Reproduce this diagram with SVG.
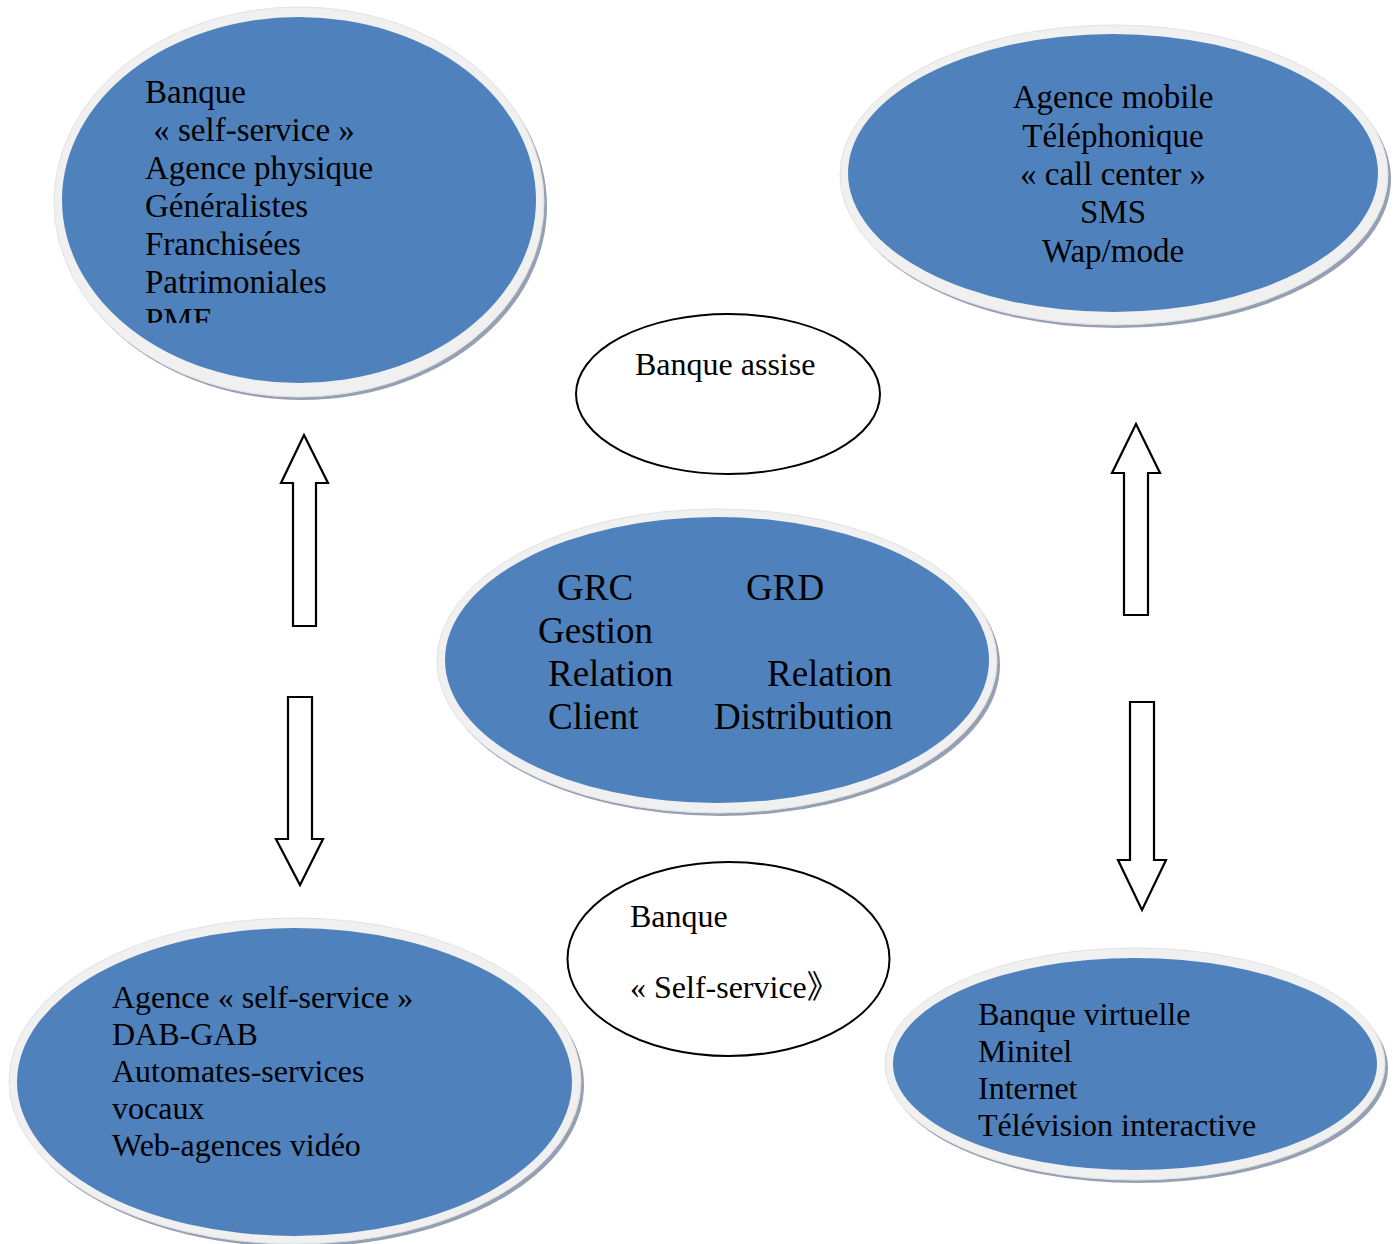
<svg xmlns="http://www.w3.org/2000/svg" width="1395" height="1244" viewBox="0 0 1395 1244">
<style>
.shadow{fill:#95a0b3}
.rim{fill:#f0f0f0;stroke:#e2e2e2;stroke-width:1}
.blue{fill:#4f81bd}
.plain{fill:#ffffff;stroke:#000000;stroke-width:2}
.arrow{fill:#ffffff;stroke:#000000;stroke-width:2.2;stroke-linejoin:miter}
text{font-family:"Liberation Serif","Times New Roman","Noto Sans CJK SC",serif;fill:#000000}
.t33{font-size:33px}
.t32{font-size:32px}
.t37{font-size:37px}
</style>
<defs>
<clipPath id="clipTL"><rect x="0" y="0" width="600" height="323"/></clipPath>
</defs>
<rect width="1395" height="1244" fill="#ffffff"/>

<g id="connectors">
<polygon class="arrow" points="304,435 328,483 316,483 316,626 293,626 293,483 281,483"/>
<polygon class="arrow" points="288,697 312,697 312,839 323,839 300,885 276,839 288,839"/>
<polygon class="arrow" points="1136,424 1160,473 1148,473 1148,615 1124,615 1124,473 1112,473"/>
<polygon class="arrow" points="1130,702 1154,702 1154,860 1166,860 1142,910 1118,860 1130,860"/>
</g>

<g id="node-top-left">
<ellipse class="shadow" cx="302" cy="206" rx="245" ry="194"/>
<ellipse class="rim" cx="299" cy="202" rx="245" ry="195"/>
<ellipse class="blue" cx="299" cy="200" rx="237" ry="183"/>
<g class="t33" clip-path="url(#clipTL)">
<text x="145" y="103">Banque</text>
<text x="145" y="141" xml:space="preserve"> « self-service »</text>
<text x="145" y="179">Agence physique</text>
<text x="145" y="217">Généralistes</text>
<text x="145" y="255">Franchisées</text>
<text x="145" y="293">Patrimoniales</text>
<text x="145" y="331">PME</text>
</g>
</g>

<g id="node-top-right">
<ellipse class="shadow" cx="1117" cy="179" rx="274" ry="149"/>
<ellipse class="rim" cx="1114" cy="175" rx="274" ry="150"/>
<ellipse class="blue" cx="1113" cy="173" rx="265" ry="139"/>
<g class="t33" text-anchor="middle">
<text x="1113" y="108">Agence mobile</text>
<text x="1113" y="147">Téléphonique</text>
<text x="1113" y="185">« call center »</text>
<text x="1113" y="223">SMS</text>
<text x="1113" y="262">Wap/mode</text>
</g>
</g>

<g id="node-banque-assise">
<ellipse class="plain" cx="728" cy="394" rx="152" ry="80"/>
<text class="t32" x="635" y="375">Banque assise</text>
</g>

<g id="node-center">
<ellipse class="shadow" cx="720" cy="665" rx="280" ry="151"/>
<ellipse class="rim" cx="717" cy="661" rx="280" ry="152"/>
<ellipse class="blue" cx="717" cy="660" rx="272" ry="143"/>
<g class="t37">
<text x="557" y="600">GRC</text>
<text x="746" y="600">GRD</text>
<text x="538" y="643">Gestion</text>
<text x="548" y="686">Relation</text>
<text x="767" y="686">Relation</text>
<text x="548" y="729">Client</text>
<text x="714" y="729">Distribution</text>
</g>
</g>

<g id="node-banque-self-service">
<ellipse class="plain" cx="728.5" cy="959" rx="161" ry="97"/>
<text class="t32" x="630" y="927">Banque</text>
<text class="t32" x="630" y="998">« Self-service》</text>
</g>

<g id="node-bottom-left">
<ellipse class="shadow" cx="298" cy="1085" rx="286" ry="162"/>
<ellipse class="rim" cx="295" cy="1081" rx="286" ry="163"/>
<ellipse class="blue" cx="294.5" cy="1082" rx="277.5" ry="154"/>
<g class="t32">
<text x="112" y="1008">Agence « self-service »</text>
<text x="112" y="1045">DAB-GAB</text>
<text x="112" y="1082">Automates-services</text>
<text x="112" y="1119">vocaux</text>
<text x="112" y="1156">Web-agences vidéo</text>
</g>
</g>

<g id="node-bottom-right">
<ellipse class="shadow" cx="1138" cy="1068" rx="250" ry="115"/>
<ellipse class="rim" cx="1135" cy="1064" rx="250" ry="116"/>
<ellipse class="blue" cx="1135" cy="1064" rx="242" ry="106"/>
<g class="t32">
<text x="978" y="1025">Banque virtuelle</text>
<text x="978" y="1062">Minitel</text>
<text x="978" y="1099">Internet</text>
<text x="978" y="1136">Télévision interactive</text>
</g>
</g>
</svg>
